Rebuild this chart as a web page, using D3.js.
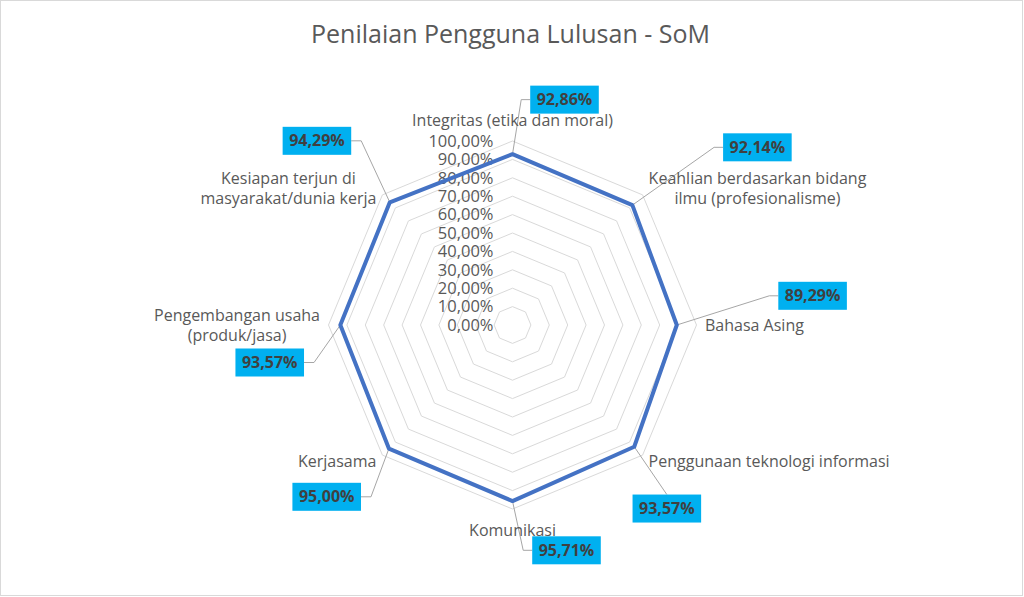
<!DOCTYPE html>
<html>
<head>
<meta charset="utf-8">
<script src="https://cdn.jsdelivr.net/npm/d3@7/dist/d3.min.js"></script>
<style>
  html, body { margin: 0; padding: 0; background: #fff; }
  svg { display: block; font-family: "Open Sans", "Noto Sans", sans-serif; }
</style>
</head>
<body>
<svg id="chart" width="1024" height="597"></svg>
<script>
// ---- data ----
const chartTitle = "Penilaian Pengguna Lulusan - SoM";
const categories = [
  "Integritas (etika dan moral)",
  "Keahlian berdasarkan bidang\nilmu (profesionalisme)",
  "Bahasa Asing",
  "Penggunaan teknologi informasi",
  "Komunikasi",
  "Kerjasama",
  "Pengembangan usaha\n(produk/jasa)",
  "Kesiapan terjun di\nmasyarakat/dunia kerja"
];
const values = [0.9286, 0.9214, 0.8929, 0.9357, 0.9571, 0.9500, 0.9357, 0.9429];
const tickValues = [0, 0.1, 0.2, 0.3, 0.4, 0.5, 0.6, 0.7, 0.8, 0.9, 1.0];

// ---- layout (label box offsets from data point, px) ----
const labelOffsets = [
  [52, -54.5], [125, -57.8], [135.8, -29.2], [32.6, 61.8],
  [54, 49.2], [-62.2, 48.2], [-70.6, 37.5], [-72.9, -61.5]
];

const W = 1024, H = 597;
const cx = 512.5, cy = 325, R = 184;
const svg = d3.select("#chart");

svg.append("rect").attr("x", 0.5).attr("y", 0.5).attr("width", 1022).attr("height", 595)
  .attr("fill", "#fff").attr("stroke", "#d9d9d9").attr("stroke-width", 1);

svg.append("text").attr("x", 510.5).attr("y", 43).attr("text-anchor", "middle")
  .attr("font-size", 25).attr("fill", "#595959").text(chartTitle);

const r = d3.scaleLinear().domain([0, 1]).range([0, R]);
const angle = d3.scaleLinear().domain([0, categories.length]).range([0, 2 * Math.PI]);
const fmt = v => d3.format(".2f")(v * 100).replace(".", ",") + "%";

const g = svg.append("g").attr("transform", `translate(${cx},${cy})`);

// grid octagons
const radial = d3.lineRadial().curve(d3.curveLinearClosed);
tickValues.filter(t => t > 0).forEach(t => {
  g.append("path")
    .attr("d", radial(categories.map((c, i) => [angle(i), r(t)])))
    .attr("fill", "none").attr("stroke", "#d9d9d9").attr("stroke-width", 1);
});

// tick labels
g.selectAll("text.tick").data(tickValues).join("text")
  .attr("class", "tick")
  .attr("x", -19).attr("y", d => -r(d)).attr("dy", "0.35em")
  .attr("text-anchor", "end").attr("font-size", 16.5).attr("fill", "#595959")
  .text(d => fmt(d));

// series
g.append("path")
  .attr("d", radial(values.map((v, i) => [angle(i), r(v)])))
  .attr("fill", "none").attr("stroke", "#4472C4").attr("stroke-width", 4)
  .attr("stroke-linejoin", "round");

// category labels
categories.forEach((c, i) => {
  const a = angle(i);
  const vx = Math.sin(a) * r(1), vy = -Math.cos(a) * r(1);
  const lines = c.split("\n");
  const t = g.append("text").attr("font-size", 16).attr("fill", "#595959").attr("text-anchor", "middle");
  const spans = lines.map(l => t.append("tspan").text(l));
  const w = d3.max(spans, s => s.node().getComputedTextLength());
  const s = Math.sin(a), co = Math.cos(a);
  let bx, by;
  if (Math.abs(s) > 0.1) {
    const edge = vx + s * 8.5;
    bx = s > 0 ? edge + w / 2 : edge - w / 2;
    by = vy - co * 9;
  } else {
    bx = vx;
    by = vy - co * 21;
  }
  spans.forEach((sp, k) => {
    sp.attr("x", bx).attr("y", by - (lines.length - 1) * 10 + k * 20).attr("dy", "0.35em");
  });
});

// data labels with leader lines
values.forEach((v, i) => {
  const a = angle(i);
  const px = Math.sin(a) * r(v), py = -Math.cos(a) * r(v);
  const [ox, oy] = labelOffsets[i];
  const bcx = px + ox, bcy = py + oy;
  const t = g.append("text").attr("font-size", 16).attr("font-weight", "bold")
    .attr("fill", "#404040").attr("text-anchor", "middle")
    .attr("x", bcx).attr("y", bcy).attr("dy", "0.35em").text(fmt(v));
  const tw = t.node().getComputedTextLength();
  const bw = tw + 13, bh = 28;
  const left = bcx - bw / 2, right = bcx + bw / 2, top = bcy - bh / 2, bottom = bcy + bh / 2;
  let pts;
  if (Math.abs(ox) < bw / 2 + 2) {
    pts = [[px, py], [bcx, oy > 0 ? top : bottom]];
  } else if (ox > 0) {
    pts = [[px, py], [left - 9, bcy], [left, bcy]];
  } else {
    pts = [[px, py], [right + 10, bcy], [right, bcy]];
  }
  g.insert("path", "text")
    .attr("d", d3.line()(pts)).attr("fill", "none").attr("stroke", "#a6a6a6").attr("stroke-width", 1);
  g.insert("rect", function() { return t.node(); })
    .attr("x", left).attr("y", top).attr("width", bw).attr("height", bh).attr("fill", "#00B0F0");
});
</script>
</body>
</html>
